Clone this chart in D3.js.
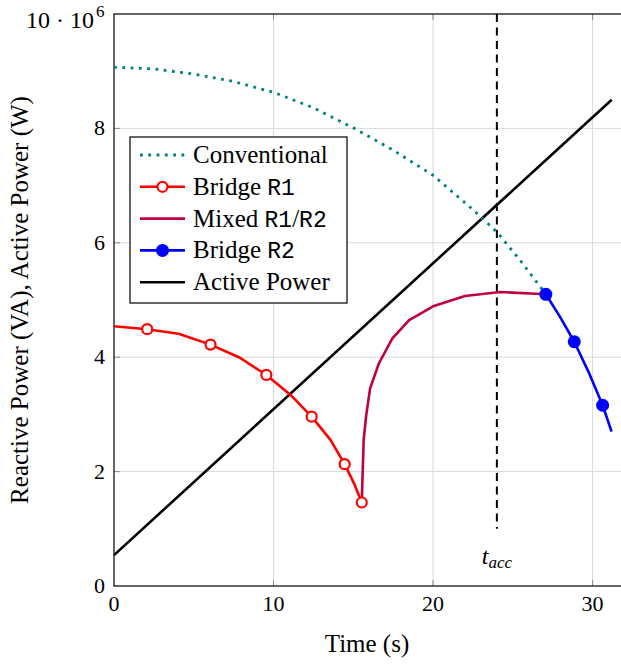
<!DOCTYPE html>
<html>
<head>
<meta charset="utf-8">
<script src="https://cdn.jsdelivr.net/npm/d3@7"></script>
<style>
  body { margin: 0; background: #fff; }
  svg { display: block; font-family: "Liberation Serif", serif; }
  text { font-family: "Liberation Serif", serif; }
</style>
</head>
<body>
<div class="canvas"></div>
<script>
// data (reactive / active power in units of 10^6)
const convTime = [0, 2.5, 5, 7.5, 10, 12.5, 15, 17.5, 20, 22.5, 24, 25.5, 27.07];
const convQ = [9.07, 9.04, 8.95, 8.82, 8.63, 8.36, 8.01, 7.62, 7.18, 6.58, 6.19, 5.68, 5.10];

const r1Time = [0, 2.08, 4.05, 6.05, 7.83, 9.55, 11.07, 12.39, 13.58, 14.46, 15.05, 15.53];
const r1Q = [4.54, 4.49, 4.41, 4.22, 4.0, 3.69, 3.34, 2.96, 2.55, 2.13, 1.79, 1.46];

const mixTime = [15.53, 15.65, 15.8, 16.05, 16.6, 17.45, 18.5, 20, 22, 24.2, 27.07];
const mixQ = [1.46, 2.55, 2.96, 3.45, 3.89, 4.33, 4.65, 4.89, 5.07, 5.14, 5.10];

const r2Time = [27.07, 27.95, 28.85, 29.75, 30.63, 31.19];
const r2Q = [5.10, 4.71, 4.27, 3.74, 3.16, 2.70];

const activeTime = [0, 31.2];
const activeP = [0.54, 8.5];

const tAcc = 24;
const xTicks = [0, 10, 20, 30];
const yTicks = [0, 2, 4, 6, 8];
const legendNames = ["Conventional", "Bridge R1", "Mixed R1/R2", "Bridge R2", "Active Power"];

const serif = "'Liberation Serif', serif";
const mono = "'Liberation Mono', monospace";

const dims = { width: 621, height: 664 };
const svg = d3.select(".canvas").append("svg")
  .attr("width", dims.width).attr("height", dims.height);

const x = d3.scaleLinear().domain([0, 32]).range([114, 624.5]);
const y = d3.scaleLinear().domain([0, 10]).range([586, 14]);

// grid
const grid = svg.append("g").attr("stroke", "#d9d9d9").attr("stroke-width", 1);
grid.selectAll(".gx").data(xTicks.slice(1)).enter().append("line")
  .attr("x1", d => x(d)).attr("x2", d => x(d)).attr("y1", y(0)).attr("y2", y(10));
grid.selectAll(".gy").data(yTicks.slice(1)).enter().append("line")
  .attr("x1", x(0)).attr("x2", x(32)).attr("y1", d => y(d)).attr("y2", d => y(d));

// small ticks
const ticks = svg.append("g").attr("stroke", "#8c8c8c").attr("stroke-width", 1);
xTicks.slice(1).forEach(t => {
  ticks.append("line").attr("x1", x(t)).attr("x2", x(t)).attr("y1", y(0)).attr("y2", y(0) - 6);
  ticks.append("line").attr("x1", x(t)).attr("x2", x(t)).attr("y1", y(10)).attr("y2", y(10) + 6);
});
yTicks.slice(1).forEach(t => {
  ticks.append("line").attr("x1", x(0)).attr("x2", x(0) + 6).attr("y1", y(t)).attr("y2", y(t));
});

// frame
svg.append("rect")
  .attr("x", x(0)).attr("y", y(10))
  .attr("width", x(32) - x(0)).attr("height", y(0) - y(10))
  .attr("fill", "none").attr("stroke", "#000").attr("stroke-width", 1.2);

// tick labels
svg.append("g").selectAll("text").data(xTicks).enter().append("text")
  .attr("x", d => x(d)).attr("y", 611)
  .attr("text-anchor", "middle").attr("font-size", 22).attr("font-family", serif)
  .text(d => d);
svg.append("g").selectAll("text").data(yTicks).enter().append("text")
  .attr("x", 105).attr("y", d => y(d) + 7)
  .attr("text-anchor", "end").attr("font-size", 22).attr("font-family", serif)
  .text(d => d);
svg.append("text").attr("x", 94).attr("y", 28)
  .attr("text-anchor", "end").attr("font-size", 24).attr("font-family", serif)
  .text("10 \u00b7 10");
svg.append("text").attr("x", 96).attr("y", 17)
  .attr("font-size", 17).attr("font-family", serif).text("6");

// axis labels
svg.append("text").attr("x", 367).attr("y", 652)
  .attr("text-anchor", "middle").attr("font-size", 25).attr("font-family", serif)
  .text("Time (s)");
svg.append("text")
  .attr("transform", `translate(28, ${(y(0) + y(10)) / 2}) rotate(-90)`)
  .attr("text-anchor", "middle").attr("font-size", 25).attr("font-family", serif)
  .text("Reactive Power (VA), Active Power (W)");

// series
const line = d3.line().x(d => x(d[0])).y(d => y(d[1]));
const zip = (a, b) => a.map((v, i) => [v, b[i]]);

const plot = svg.append("g").attr("fill", "none").attr("stroke-linejoin", "round");

// dashed t_acc line
plot.append("line")
  .attr("x1", x(tAcc)).attr("x2", x(tAcc)).attr("y1", y(10)).attr("y2", y(1.0))
  .attr("stroke", "#000").attr("stroke-width", 2).attr("stroke-dasharray", "8,5.5");

plot.append("path").attr("d", line(zip(activeTime, activeP)))
  .attr("stroke", "#000").attr("stroke-width", 2.6);

plot.append("path").attr("d", line(zip(convTime, convQ)))
  .attr("stroke", "#008080").attr("stroke-width", 2.8)
  .attr("stroke-dasharray", "2.8,5.5");

plot.append("path").attr("d", line(zip(mixTime, mixQ)))
  .attr("stroke", "#bf0040").attr("stroke-width", 2.6);

plot.append("path").attr("d", line(zip(r1Time, r1Q)))
  .attr("stroke", "#ff0000").attr("stroke-width", 2.6);

plot.append("path").attr("d", line(zip(r2Time, r2Q)))
  .attr("stroke", "#0000ff").attr("stroke-width", 2.6);

// markers: every second point
const r1Marks = zip(r1Time, r1Q).filter((d, i) => i % 2 === 1);
svg.append("g").selectAll("circle").data(r1Marks).enter().append("circle")
  .attr("cx", d => x(d[0])).attr("cy", d => y(d[1])).attr("r", 5)
  .attr("fill", "#fff").attr("stroke", "#ff0000").attr("stroke-width", 2.2);

const r2Marks = zip(r2Time, r2Q).filter((d, i) => i % 2 === 0);
svg.append("g").selectAll("circle").data(r2Marks).enter().append("circle")
  .attr("cx", d => x(d[0])).attr("cy", d => y(d[1])).attr("r", 6.5)
  .attr("fill", "#0000ff");

// t_acc label
const tl = svg.append("text").attr("x", x(tAcc)).attr("y", 564)
  .attr("text-anchor", "middle").attr("font-size", 24)
  .attr("font-style", "italic").attr("font-family", serif);
tl.append("tspan").text("t");
tl.append("tspan").attr("font-size", 17).attr("dy", 4).text("acc");

// legend
const lg = svg.append("g").attr("transform", "translate(130, 137)");
lg.append("rect").attr("width", 217).attr("height", 166)
  .attr("fill", "#fff").attr("stroke", "#000").attr("stroke-width", 1.2);

const legendStyle = [
  { color: "#008080", dash: "2.8,5.5", mark: null },
  { color: "#ff0000", dash: null, mark: "open" },
  { color: "#bf0040", dash: null, mark: null },
  { color: "#0000ff", dash: null, mark: "filled" },
  { color: "#000", dash: null, mark: null }
];

legendNames.forEach((name, i) => {
  const cy = 18 + i * 31.8;
  const st = legendStyle[i];
  lg.append("line").attr("x1", 10).attr("x2", 55).attr("y1", cy).attr("y2", cy)
    .attr("stroke", st.color).attr("stroke-width", st.dash ? 2.8 : 2.6)
    .attr("stroke-dasharray", st.dash);
  if (st.mark === "open") {
    lg.append("circle").attr("cx", 32.5).attr("cy", cy).attr("r", 5)
      .attr("fill", "#fff").attr("stroke", st.color).attr("stroke-width", 2.2);
  } else if (st.mark === "filled") {
    lg.append("circle").attr("cx", 32.5).attr("cy", cy).attr("r", 6.5).attr("fill", st.color);
  }
  const txt = lg.append("text").attr("x", 63).attr("y", cy + 8)
    .attr("font-size", 25).attr("font-family", serif);
  // R1 / R2 set in typewriter font
  const parts = name.split(/(R1|R2)/);
  parts.forEach(p => {
    if (!p) return;
    const ts = txt.append("tspan").text(p);
    if (p === "R1" || p === "R2") ts.attr("font-family", mono).attr("font-size", 23);
  });
});
</script>
</body>
</html>
